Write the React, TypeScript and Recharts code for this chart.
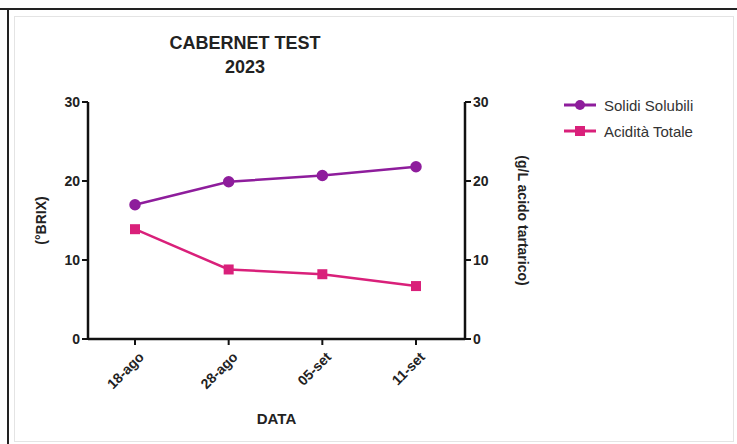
import React from "react";
import { LineChart, Line, XAxis, YAxis } from "recharts";

const dates = ["18-ago", "28-ago", "05-set", "11-set"];
const solidiSolubili = [17.0, 19.9, 20.7, 21.8];
const aciditaTotale = [13.9, 8.8, 8.2, 6.7];
const yTicks = [0, 10, 20, 30];

const PURPLE = "#8e1d9c";
const PINK = "#d9207a";
const FONT = "'Liberation Sans', Arial, sans-serif";

const data = dates.map((d, i) => ({
  date: d,
  solidi: solidiSolubili[i],
  acidita: aciditaTotale[i],
}));

const SquareDot = (props: any) => {
  const { cx, cy } = props;
  if (cx == null || cy == null) return null;
  return <rect x={cx - 5} y={cy - 5} width={10} height={10} fill={PINK} />;
};

const XTick = (props: any) => {
  const { x, y, payload } = props;
  return (
    <g transform={`translate(${x + 7},${y + 8})`}>
      <text
        transform="rotate(-45)"
        textAnchor="end"
        dy={4}
        fontFamily={FONT}
        fontWeight={700}
        fontSize={14}
        fill="#222"
      >
        {payload.value}
      </text>
    </g>
  );
};

const legendItems = [
  { name: "Solidi Solubili", color: PURPLE, square: false },
  { name: "Acidità Totale", color: PINK, square: true },
];

const ChartLegend = () => (
  <div
    style={{
      position: "absolute",
      left: 562,
      top: 92,
      fontFamily: FONT,
      fontSize: 15,
      color: "#333",
    }}
  >
    {legendItems.map((it) => (
      <div key={it.name} style={{ display: "flex", alignItems: "center", height: 26 }}>
        <svg width={36} height={12} style={{ marginRight: 6 }}>
          <line x1={2} y1={6} x2={34} y2={6} stroke={it.color} strokeWidth={3} />
          {it.square ? (
            <rect x={13} y={1} width={10} height={10} fill={it.color} />
          ) : (
            <circle cx={18} cy={6} r={5} fill={it.color} />
          )}
        </svg>
        <span>{it.name}</span>
      </div>
    ))}
  </div>
);

export default function App() {
  return (
    <div
      style={{
        position: "absolute",
        left: 0,
        top: 0,
        width: 737,
        height: 444,
        background: "#fff",
        overflow: "hidden",
      }}
    >
      <div style={{ position: "absolute", left: 0, top: 8, width: 737, borderTop: "2px solid #222" }} />
      <div style={{ position: "absolute", left: 7, top: 8, height: 436, borderLeft: "2px solid #222" }} />
      <div
        style={{
          position: "absolute",
          left: 14,
          top: 16,
          width: 718,
          height: 424,
          border: "1px solid #e4e4e4",
        }}
      />
      <div
        style={{
          position: "absolute",
          left: 145,
          top: 31,
          width: 200,
          textAlign: "center",
          fontFamily: FONT,
          fontWeight: 700,
          fontSize: 18,
          lineHeight: "24px",
          color: "#222",
        }}
      >
        CABERNET TEST
        <br />
        2023
      </div>
      <div style={{ position: "absolute", left: 0, top: 0 }}>
        <LineChart
          width={737}
          height={444}
          data={data}
          margin={{ top: 102, right: 232, bottom: 0, left: 48 }}
        >
          <XAxis
            dataKey="date"
            height={105}
            padding={{ left: 47, right: 49 }}
            axisLine={{ stroke: "#111", strokeWidth: 2.5 }}
            tickLine={{ stroke: "#111", strokeWidth: 2 }}
            tickSize={6}
            tick={<XTick />}
            interval={0}
            label={{
              value: "DATA",
              position: "insideBottom",
              offset: 20,
              fontFamily: FONT,
              fontWeight: 700,
              fontSize: 15,
              fill: "#222",
            }}
          />
          <YAxis
            yAxisId="left"
            width={40}
            domain={[0, 30]}
            ticks={yTicks}
            axisLine={{ stroke: "#111", strokeWidth: 2.5 }}
            tickLine={{ stroke: "#111", strokeWidth: 2 }}
            tickSize={6}
            tick={{ fontFamily: FONT, fontWeight: 700, fontSize: 14, fill: "#222" }}
            label={{
              value: "(°BRIX)",
              angle: -90,
              position: "insideLeft",
              offset: -7,
              style: { textAnchor: "middle" },
              fontFamily: FONT,
              fontWeight: 700,
              fontSize: 14,
              fill: "#222",
            }}
          />
          <YAxis
            yAxisId="right"
            orientation="right"
            width={40}
            domain={[0, 30]}
            ticks={yTicks}
            axisLine={{ stroke: "#111", strokeWidth: 2.5 }}
            tickLine={{ stroke: "#111", strokeWidth: 2 }}
            tickSize={6}
            tick={{ fontFamily: FONT, fontWeight: 700, fontSize: 14, fill: "#222" }}
            label={{
              value: "(g/L acido tartarico)",
              angle: 90,
              position: "insideRight",
              offset: -18,
              style: { textAnchor: "middle" },
              fontFamily: FONT,
              fontWeight: 700,
              fontSize: 14,
              fill: "#222",
            }}
          />
          <Line
            yAxisId="left"
            dataKey="solidi"
            name="Solidi Solubili"
            stroke={PURPLE}
            strokeWidth={2.5}
            dot={{ r: 4.5, fill: PURPLE, stroke: PURPLE }}
            isAnimationActive={false}
          />
          <Line
            yAxisId="right"
            dataKey="acidita"
            name="Acidità Totale"
            stroke={PINK}
            strokeWidth={2.5}
            dot={<SquareDot />}
            isAnimationActive={false}
          />
        </LineChart>
      </div>
      <ChartLegend />
    </div>
  );
}
